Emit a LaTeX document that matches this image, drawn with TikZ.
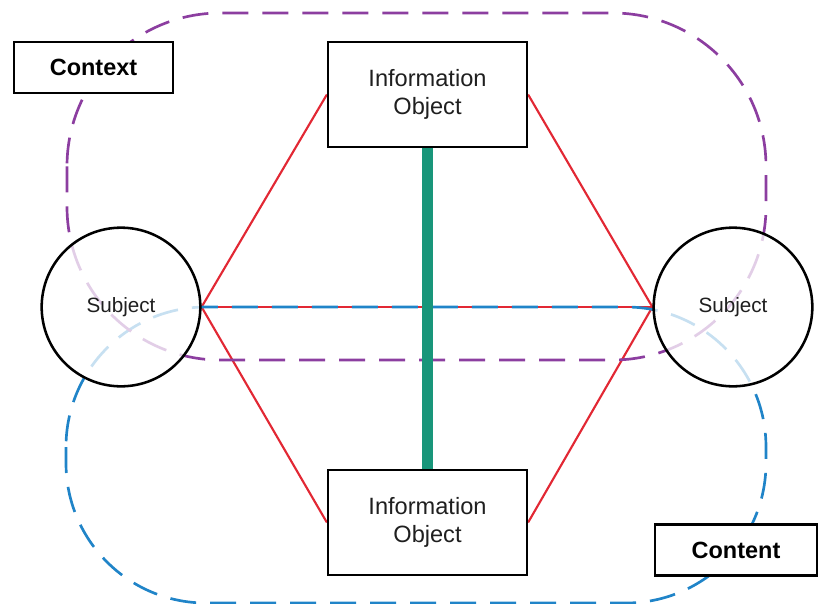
\documentclass[tikz,border=0pt]{standalone}
\usepackage{fontspec}
\setmainfont{Liberation Sans}
\definecolor{ctxpurple}{RGB}{140,62,160}
\definecolor{cntblue}{RGB}{32,132,200}
\definecolor{relred}{RGB}{226,40,52}
\definecolor{linkgreen}{RGB}{24,150,122}
\pgfdeclarelayer{bg}
\pgfsetlayers{bg,main}
\begin{document}
\begin{tikzpicture}[x=0.75pt,y=-0.75pt,
  infobox/.style={draw=black, fill=white, line width=1.9pt, minimum width=149pt, minimum height=79pt, align=center, font=\fontsize{17.7}{21}\selectfont, text=black!88, inner sep=0pt},
  tagbox/.style={draw=black, fill=white, line width=1.9pt, minimum height=38.5pt, font=\bfseries\fontsize{17.6}{21}\selectfont, text=black, inner sep=0pt},
  subj/.style={circle, draw=black, line width=1.9pt, fill=white, fill opacity=0.75, text opacity=1, minimum size=119pt, inner sep=0pt, font=\fontsize{15.5}{18}\selectfont, text=black!88},
  region/.style={dash pattern=on 19.5pt off 10.5pt, line width=2pt},
  rel/.style={draw=relred, line width=1.6pt},
  link/.style={draw=linkgreen, line width=8.25pt}
]
\useasboundingbox (0,0) rectangle (819,604);

% nodes
\node[infobox] (io1) at (427.5,94.5) {Information\\Object};
\node[infobox] (io2) at (427.5,522.5) {Information\\Object};
\node[subj] (s1) at (121,307) {Subject};
\node[subj] (s2) at (733,307) {Subject};
\node[tagbox, minimum width=119pt] (ctx) at (93.5,67.5) {Context};
\node[tagbox, minimum width=121.5pt] (cnt) at (736,550) {Content};

\begin{pgfonlayer}{bg}
  % relations
  \draw[rel] (s1.east) -- (io1.west);
  \draw[rel] (s1.east) -- (io2.west);
  \draw[rel] (s2.west) -- (io1.east);
  \draw[rel] (s2.west) -- (io2.east);
  \draw[rel] (s1.east) -- (s2.west);
  % regions
  \draw[region, cntblue, rounded corners=105pt] (66,307) rectangle (766,603);
  \draw[region, ctxpurple, rounded corners=115pt] (67,13) rectangle (766,360);
  % link between information objects
  \draw[link] (io1.south) -- (io2.north);
\end{pgfonlayer}
\end{tikzpicture}
\end{document}
